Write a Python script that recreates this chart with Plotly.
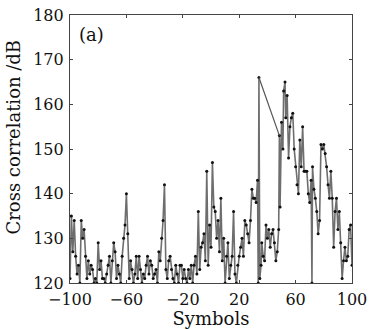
import plotly.graph_objects as go

symbols = [-100, -99, -98, -97, -96, -95, -94, -93, -92, -91, -90, -89, -88, -87, -86, -85, -84, -83, -82, -81,
           -80, -79, -78, -77, -76, -75, -74, -73, -72, -71, -70, -69, -68, -67, -66, -65, -64, -63, -62, -61,
           -60, -59, -58, -57, -56, -55, -54, -53, -52, -51, -50, -49, -48, -47, -46, -45, -44, -43, -42, -41,
           -40, -39, -38, -37, -36, -35, -34, -33, -32, -31, -30, -29, -28, -27, -26, -25, -24, -23, -22, -21,
           -20, -19, -18, -17, -16, -15, -14, -13, -12, -11, -10, -9, -8, -7, -6, -5, -4, -3, -2, -1,
           0, 1, 2, 3, 4, 5, 6, 7, 8, 9, 10, 11, 12, 13, 14, 15, 16, 17, 18, 19,
           20, 21, 22, 23, 24, 25, 26, 27, 28, 29, 30, 31, 32, 33, 33.5, 34, 34.6, 35.5, 36, 37,
           38, 39, 40, 41, 42, 43, 44, 45, 46, 47, 48, 48.5, 49, 50, 51, 51.5, 52.5, 53, 54, 55,
           56, 57, 58, 59, 60, 61, 62, 63, 64, 65, 66, 67, 68, 69, 70, 71, 71.6, 72, 73, 74,
           75, 76, 77, 78, 79, 80, 81, 82, 83, 84, 85, 86, 87, 88, 89, 90, 91, 92, 93, 94,
           95, 96, 97, 98, 99, 100]

corr_db = [121, 135, 127, 134, 126, 122, 124, 120, 134, 130, 132, 126, 121, 125, 122, 124, 123, 120, 121, 120,
           129, 123, 125, 121, 121, 120, 122, 124, 126, 120, 125, 129, 127, 121, 124, 122, 120, 126, 130, 133,
           140, 131, 121, 125, 123, 120, 122, 126, 121, 126, 123, 120, 122, 121, 124, 126, 122, 125, 124, 121,
           122, 123, 120, 127, 125, 130, 134, 142, 123, 121, 125, 126, 123, 121, 120, 124, 122, 120, 124, 124,
           121, 123, 121, 120, 123, 121, 124, 120, 124, 126, 122, 136, 123, 128, 129, 131, 125, 145, 124, 133,
           128, 147, 137, 136, 130, 134, 127, 139, 125, 130, 120, 126, 129, 121, 124, 126, 136, 122, 120, 124,
           126, 128, 130, 126, 134, 133, 131, 129, 134, 141, 139, 139, 138, 143, 120, 166, 121, 124, 129, 126,
           125, 133, 130, 132, 128, 131, 132, 129, 125, 127, 132, 153, 137, 156, 150, 163, 165, 157, 162, 148,
           155, 157, 158, 150, 146, 142, 140, 152, 146, 155, 145, 145, 145, 140, 138, 143, 120, 146, 141, 139,
           136, 131, 134, 151, 150, 151, 149, 146, 142, 139, 145, 139, 128, 136, 139, 132, 136, 129, 121, 125,
           128, 125, 126, 132, 133, 124]

x_ticks = [-100, -60, -20, 20, 60, 100]
x_tick_text = ["\u2212100", "\u221260", "\u221220", "20", "60", "100"]
y_ticks = [120, 130, 140, 150, 160, 170, 180]

# diagonal jump in the original trace (from the x=34 peak to x=48.5)
ia = symbols.index(34)
ib = symbols.index(48.5)

font_family = "DejaVu Serif"

fig = go.Figure()
fig.add_trace(go.Scatter(
    x=symbols, y=corr_db, mode="lines+markers",
    line=dict(color="#6e6e6e", width=1.6),
    marker=dict(color="#111111", size=3, symbol="circle"),
    showlegend=False,
))
fig.add_trace(go.Scatter(
    x=[symbols[ia], symbols[ib]], y=[corr_db[ia], corr_db[ib]], mode="lines",
    line=dict(color="#555555", width=1.2), showlegend=False,
))

axis_common = dict(
    showgrid=False, zeroline=False, showline=True, mirror="ticks",
    linecolor="#444444", linewidth=1.2, ticks="inside", ticklen=3,
    tickcolor="#444444", tickfont=dict(family=font_family, size=16, color="#111111"),
    automargin=False,
)

fig.update_layout(
    width=371, height=329,
    margin=dict(l=70, r=19, t=15, b=46),
    paper_bgcolor="white", plot_bgcolor="white",
    font=dict(family=font_family, color="#111111"),
    xaxis=dict(range=[-100, 100], tickvals=x_ticks, ticktext=x_tick_text, ticklabelstandoff=2,
               title=dict(text="Symbols", font=dict(family=font_family, size=18), standoff=0), **axis_common),
    yaxis=dict(range=[120, 180], tickvals=y_ticks, ticklabelstandoff=2, **axis_common),
    annotations=[
        dict(text="(a)", x=0.025, y=0.975, xref="paper", yref="paper",
             xanchor="left", yanchor="top", showarrow=False,
             font=dict(family=font_family, size=18, color="#111111")),
        dict(text="Cross correlation /dB", x=-0.2, y=0.545, xref="paper", yref="paper",
             xanchor="center", yanchor="middle", textangle=-90, showarrow=False,
             font=dict(family=font_family, size=18, color="#111111")),
    ],
)

fig.write_html("out.html")
